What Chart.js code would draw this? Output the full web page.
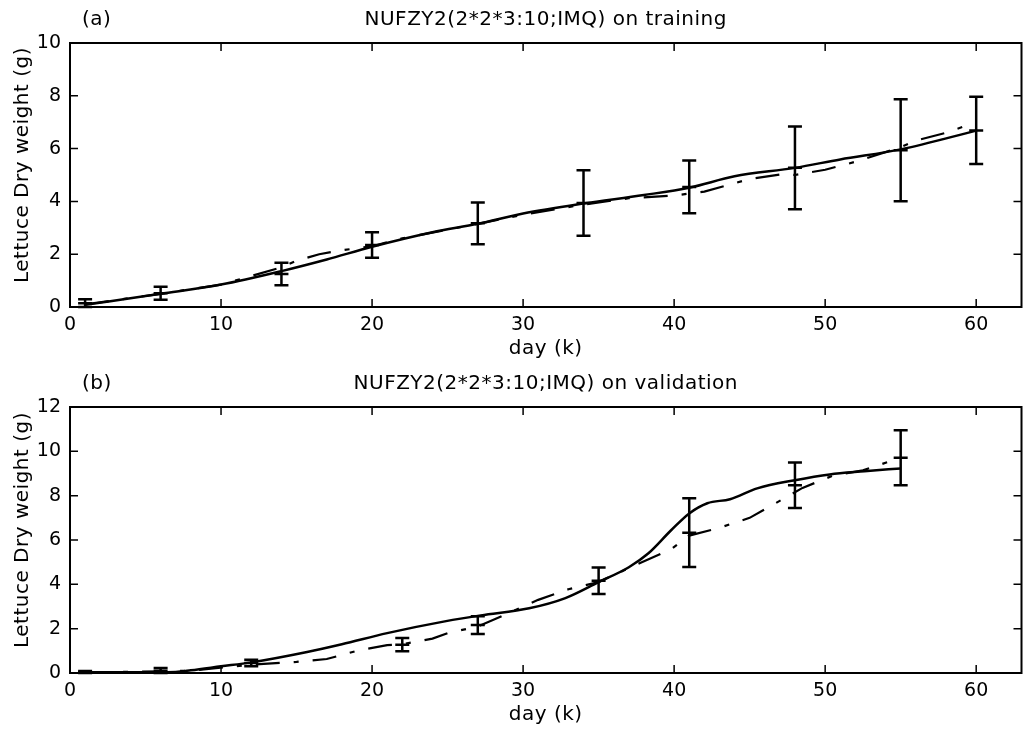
<!DOCTYPE html>
<html>
<head>
<meta charset="utf-8">
<script src="https://cdn.jsdelivr.net/npm/chart.js@4/dist/chart.umd.min.js"></script>
<style>
  body { margin: 0; background: #fff; }
  #wrap { position: relative; width: 1031px; height: 731px; background: #fff; }
  canvas { position: absolute; left: 0; }
</style>
</head>
<body>
<div id="wrap">
  <canvas id="trainChart" width="1031" height="365" style="top:0;width:1031px;height:365px"></canvas>
  <canvas id="valChart" width="1031" height="366" style="top:365px;width:1031px;height:366px"></canvas>
</div>
<script>
// Osie
const xTicks = [0, 10, 20, 30, 40, 50, 60];
const yTicksTrain = [0, 2, 4, 6, 8, 10];
const yTicksVal = [0, 2, 4, 6, 8, 10, 12];

// (a) trening - model (linia ciągła)
const fitTrainDays = [1, 6, 10, 14, 17, 20, 24, 27, 30, 34, 38, 41, 44, 48, 51, 55, 60];
const fitTrain = [0.08, 0.5, 0.85, 1.36, 1.8, 2.28, 2.83, 3.15, 3.54, 3.92, 4.24, 4.52, 4.95, 5.27, 5.59, 5.97, 6.68];
// (a) trening - linia kreska-kropka
const altTrainDays = [1, 6, 10, 14, 15, 16.5, 18, 20, 22, 27, 30, 34, 37, 40, 41, 42, 45, 47, 48, 50, 52, 55, 56, 58, 60];
const altTrain = [0.1, 0.5, 0.85, 1.5, 1.75, 2.0, 2.15, 2.3, 2.6, 3.15, 3.5, 3.88, 4.12, 4.22, 4.3, 4.37, 4.85, 5.02, 5.0, 5.2, 5.5, 6.05, 6.3, 6.6, 7.0];
// (a) trening - pomiary (średnia i odchylenie)
const measTrainDays = [1, 6, 14, 20, 27, 34, 41, 48, 55, 60];
const measTrainMean = [0.14, 0.52, 1.25, 2.35, 3.17, 3.94, 4.55, 5.27, 5.94, 6.69];
const measTrainErr = [0.15, 0.25, 0.43, 0.48, 0.79, 1.24, 1.0, 1.57, 1.93, 1.27];

// (b) walidacja - model (linia ciągła)
const fitValDays = [1, 4, 7, 8, 10, 12, 15.7, 18, 21, 24.9, 27.2, 30.4, 32.8, 35, 37, 38.3, 39.8, 41, 42.2, 43.7, 45.5, 48, 50.3, 52.6, 55];
const fitVal = [0.03, 0.03, 0.05, 0.12, 0.3, 0.48, 0.95, 1.3, 1.8, 2.34, 2.6, 2.92, 3.38, 4.1, 4.77, 5.4, 6.44, 7.2, 7.66, 7.84, 8.33, 8.7, 8.96, 9.1, 9.23];
// (b) walidacja - linia kreska-kropka
const altValDays = [1, 6, 8, 12, 15, 17, 19, 21, 22, 24, 25, 27, 28, 31, 33, 35, 37, 39.8, 41, 43, 45, 47.6, 48.5, 50.5, 52.5, 54.5, 55];
const altVal = [0.02, 0.08, 0.1, 0.38, 0.5, 0.63, 1.0, 1.26, 1.3, 1.55, 1.8, 2.1, 2.39, 3.3, 3.78, 4.1, 4.73, 5.58, 6.2, 6.55, 7.0, 8.0, 8.35, 8.9, 9.14, 9.6, 9.7];
// (b) walidacja - pomiary
const measValDays = [1, 6, 12, 22, 27, 35, 41, 48, 55];
const measValMean = [0.03, 0.1, 0.45, 1.28, 2.16, 4.16, 6.33, 8.47, 9.71];
const measValErr = [0.06, 0.12, 0.15, 0.3, 0.4, 0.6, 1.55, 1.03, 1.24];

const FONT = '"DejaVu Sans", "Liberation Sans", sans-serif';

function toXY(xs, ys) {
    return xs.map((x, i) => ({ x: x, y: ys[i] }));
}

// Słupki błędów: pionowa linia z poprzeczkami na końcach
const errorBars = {
    id: 'errorBars',
    afterDatasetsDraw(chart, args, opts) {
        const ctx = chart.ctx;
        const xs = chart.scales.x, ys = chart.scales.y;
        ctx.save();
        ctx.strokeStyle = '#000';
        ctx.lineWidth = 2.5;
        opts.days.forEach((d, i) => {
            const px = xs.getPixelForValue(d);
            const top = ys.getPixelForValue(opts.means[i] + opts.errs[i]);
            const bot = ys.getPixelForValue(Math.max(0, opts.means[i] - opts.errs[i]));
            ctx.beginPath();
            ctx.moveTo(px, top); ctx.lineTo(px, bot);
            ctx.moveTo(px - 7, top); ctx.lineTo(px + 7, top);
            ctx.moveTo(px - 7, bot); ctx.lineTo(px + 7, bot);
            ctx.stroke();
        });
        ctx.restore();
    }
};

// Ramka, znaczniki do środka i napisy
const frameAndText = {
    id: 'frameAndText',
    afterDraw(chart, args, opts) {
        const ctx = chart.ctx;
        const a = chart.chartArea;
        const xs = chart.scales.x, ys = chart.scales.y;
        ctx.save();
        ctx.strokeStyle = '#000';
        ctx.lineWidth = 2;
        ctx.strokeRect(a.left, a.top, a.right - a.left, a.bottom - a.top);
        ctx.lineWidth = 1.5;
        ctx.beginPath();
        xs.ticks.forEach(t => {
            const px = xs.getPixelForValue(t.value);
            ctx.moveTo(px, a.bottom); ctx.lineTo(px, a.bottom - 8);
            ctx.moveTo(px, a.top); ctx.lineTo(px, a.top + 8);
        });
        ys.ticks.forEach(t => {
            const py = ys.getPixelForValue(t.value);
            ctx.moveTo(a.left, py); ctx.lineTo(a.left + 8, py);
            ctx.moveTo(a.right, py); ctx.lineTo(a.right - 8, py);
        });
        ctx.stroke();

        ctx.fillStyle = '#000';
        ctx.font = '20px ' + FONT;
        ctx.textBaseline = 'middle';
        ctx.letterSpacing = '0.5px';
        ctx.textAlign = 'left';
        ctx.fillText(opts.tag, 82, a.top - 23);
        ctx.textAlign = 'center';
        const cx = (a.left + a.right) / 2;
        ctx.fillText(opts.title, cx, a.top - 23);
        ctx.fillText('day (k)', cx, a.bottom + 42);
        ctx.translate(23, (a.top + a.bottom) / 2 - 10);
        ctx.rotate(-Math.PI / 2);
        ctx.fillText('Lettuce Dry weight (g)', 0, 0);
        ctx.restore();
    }
};

function makeChart(id, cfg) {
    const canvas = document.getElementById(id);
    return new Chart(canvas.getContext('2d'), {
        type: 'scatter',
        data: {
            datasets: [
                {
                    data: toXY(cfg.altDays, cfg.alt),
                    showLine: true,
                    borderColor: '#000',
                    borderWidth: 2.2,
                    borderDash: [24, 14, 5, 14],
                    pointRadius: 0,
                    tension: 0
                },
                {
                    data: toXY(cfg.fitDays, cfg.fit),
                    showLine: true,
                    borderColor: '#000',
                    borderWidth: 2.5,
                    pointRadius: 0,
                    cubicInterpolationMode: 'monotone'
                },
                {
                    data: toXY(cfg.measDays, cfg.measMean),
                    showLine: false,
                    pointStyle: 'line',
                    pointRadius: 7,
                    borderColor: '#000',
                    borderWidth: 2.5
                }
            ]
        },
        options: {
            responsive: false,
            animation: false,
            layout: { padding: { top: cfg.top, right: 6, left: 0, bottom: 0 } },
            plugins: {
                legend: { display: false },
                tooltip: { enabled: false },
                errorBars: { days: cfg.measDays, means: cfg.measMean, errs: cfg.measErr },
                frameAndText: { tag: cfg.tag, title: cfg.title }
            },
            scales: {
                x: {
                    type: 'linear',
                    min: 0,
                    max: 63,
                    grid: { display: false, drawTicks: false },
                    border: { display: false },
                    afterBuildTicks: s => { s.ticks = xTicks.map(v => ({ value: v })); },
                    afterFit: s => { s.height = cfg.xHeight; },
                    ticks: { padding: 7, color: '#000', font: { family: FONT, size: 19 }, maxRotation: 0 }
                },
                y: {
                    min: 0,
                    max: cfg.yMax,
                    grid: { display: false, drawTicks: false },
                    border: { display: false },
                    afterBuildTicks: s => { s.ticks = cfg.yTicks.map(v => ({ value: v })); },
                    afterFit: s => { s.width = 70; },
                    ticks: { padding: 9, color: '#000', font: { family: FONT, size: 19 } }
                }
            }
        },
        plugins: [errorBars, frameAndText]
    });
}

makeChart('trainChart', {
    tag: '(a)',
    title: 'NUFZY2(2*2*3:10;IMQ) on training',
    top: 43, xHeight: 58, yMax: 10, yTicks: yTicksTrain,
    fitDays: fitTrainDays, fit: fitTrain,
    altDays: altTrainDays, alt: altTrain,
    measDays: measTrainDays, measMean: measTrainMean, measErr: measTrainErr
});

makeChart('valChart', {
    tag: '(b)',
    title: 'NUFZY2(2*2*3:10;IMQ) on validation',
    top: 42, xHeight: 58, yMax: 12, yTicks: yTicksVal,
    fitDays: fitValDays, fit: fitVal,
    altDays: altValDays, alt: altVal,
    measDays: measValDays, measMean: measValMean, measErr: measValErr
});
</script>
</body>
</html>
